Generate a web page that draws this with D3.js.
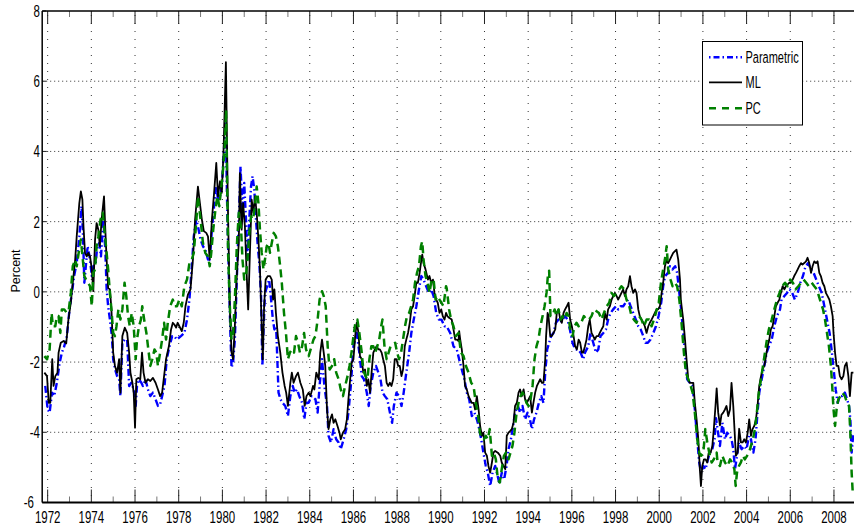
<!DOCTYPE html>
<html>
<head>
<meta charset="utf-8">
<script src="https://cdn.jsdelivr.net/npm/d3@7"></script>
<style>
  html, body { margin: 0; padding: 0; background: #fff; }
  svg { display: block; }
  text { font-family: "Liberation Sans", Arial, sans-serif; fill: #000; }
</style>
</head>
<body>
<svg id="chart" width="854" height="527"></svg>
<script>
// ---------------- data ----------------
const seriesNames = ["Parametric", "ML", "PC"];
const xTickYears = [1972,1974,1976,1978,1980,1982,1984,1986,1988,1990,1992,1994,1996,1998,2000,2002,2004,2006,2008];
const yTickValues = [-6,-4,-2,0,2,4,6,8];

const mlData = [[1971.85,-2.3],[1971.97,-2.4],[1972.05,-3.16],[1972.12,-3.16],[1972.21,-1.92],[1972.27,-2.68],[1972.35,-2.4],[1972.45,-2.3],[1972.5,-1.73],[1972.6,-1.45],[1972.73,-1.4],[1972.85,-1.47],[1972.95,-0.79],[1973.06,-0.31],[1973.15,0.26],[1973.26,0.92],[1973.33,1.58],[1973.45,2.53],[1973.52,2.86],[1973.59,2.63],[1973.64,1.87],[1973.71,1.11],[1973.79,1.01],[1973.86,1.11],[1973.94,1.01],[1974.02,0.64],[1974.09,0.02],[1974.17,1.49],[1974.24,1.96],[1974.32,1.77],[1974.39,1.3],[1974.47,2.06],[1974.58,2.72],[1974.64,1.77],[1974.7,0.92],[1974.77,0.11],[1974.85,0.07],[1974.92,-0.5],[1975.0,-1.73],[1975.08,-2.11],[1975.18,-2.3],[1975.27,-1.92],[1975.33,-2.87],[1975.42,-1.26],[1975.53,-1.02],[1975.64,-1.17],[1975.73,-1.73],[1975.79,-2.3],[1975.88,-2.59],[1975.94,-2.87],[1976.0,-3.87],[1976.06,-2.49],[1976.15,-2.45],[1976.24,-2.49],[1976.32,-1.73],[1976.39,-2.3],[1976.48,-2.59],[1976.59,-2.49],[1976.7,-2.54],[1976.82,-2.45],[1976.94,-2.59],[1977.05,-2.78],[1977.15,-2.97],[1977.24,-2.87],[1977.33,-2.4],[1977.42,-1.92],[1977.55,-1.55],[1977.65,-1.07],[1977.73,-0.88],[1977.8,-0.93],[1977.88,-1.02],[1977.95,-0.88],[1978.03,-0.98],[1978.14,-1.12],[1978.23,-0.88],[1978.31,-0.41],[1978.42,-0.08],[1978.54,0.07],[1978.65,0.92],[1978.75,2.06],[1978.88,3.0],[1978.97,2.53],[1979.06,2.06],[1979.15,1.73],[1979.26,1.68],[1979.34,1.58],[1979.42,0.92],[1979.52,2.06],[1979.62,2.82],[1979.72,3.67],[1979.8,2.72],[1979.89,3.15],[1979.97,2.82],[1980.05,3.95],[1980.16,6.54],[1980.25,2.5],[1980.34,-0.5],[1980.42,-1.73],[1980.49,-1.92],[1980.57,-0.98],[1980.65,0.35],[1980.75,1.39],[1980.8,3.38],[1980.88,1.77],[1980.95,2.53],[1981.03,1.87],[1981.11,0.54],[1981.18,-0.5],[1981.26,1.11],[1981.34,2.63],[1981.42,2.25],[1981.49,2.72],[1981.57,2.25],[1981.65,1.49],[1981.72,0.64],[1981.8,-0.98],[1981.85,-1.92],[1981.91,-0.41],[1981.98,0.35],[1982.08,0.45],[1982.18,0.45],[1982.26,0.35],[1982.32,-0.22],[1982.38,0.07],[1982.45,-0.6],[1982.54,-1.26],[1982.65,-1.73],[1982.75,-2.3],[1982.85,-2.68],[1982.92,-2.87],[1983.0,-3.25],[1983.11,-2.59],[1983.18,-2.3],[1983.26,-2.59],[1983.37,-2.4],[1983.46,-2.3],[1983.57,-2.59],[1983.68,-2.78],[1983.77,-3.25],[1983.85,-2.97],[1983.95,-2.87],[1984.03,-2.97],[1984.15,-2.68],[1984.21,-2.78],[1984.3,-2.3],[1984.41,-2.49],[1984.48,-1.73],[1984.56,-1.36],[1984.64,-1.73],[1984.71,-2.11],[1984.79,-3.35],[1984.86,-3.91],[1984.94,-3.63],[1985.02,-3.49],[1985.09,-3.73],[1985.17,-3.63],[1985.27,-3.82],[1985.36,-4.01],[1985.42,-4.2],[1985.52,-4.01],[1985.62,-3.91],[1985.7,-3.63],[1985.77,-3.06],[1985.85,-2.49],[1985.92,-2.02],[1986.0,-1.92],[1986.08,-1.26],[1986.15,-0.88],[1986.23,-1.17],[1986.3,-1.83],[1986.38,-1.92],[1986.45,-2.3],[1986.53,-2.21],[1986.61,-2.68],[1986.68,-2.49],[1986.76,-2.87],[1986.83,-2.3],[1986.91,-1.73],[1986.98,-1.64],[1987.06,-1.55],[1987.14,-1.64],[1987.21,-1.64],[1987.29,-1.73],[1987.36,-1.92],[1987.44,-2.11],[1987.52,-2.59],[1987.59,-2.68],[1987.67,-2.59],[1987.74,-2.68],[1987.82,-2.49],[1987.89,-1.92],[1987.97,-1.92],[1988.05,-2.11],[1988.12,-2.11],[1988.2,-2.4],[1988.27,-2.21],[1988.35,-1.55],[1988.42,-1.36],[1988.5,-1.17],[1988.58,-0.88],[1988.65,-0.5],[1988.73,-0.41],[1988.8,-0.12],[1988.88,0.26],[1988.95,0.26],[1989.03,0.54],[1989.11,0.92],[1989.15,1.06],[1989.21,0.82],[1989.3,0.64],[1989.41,0.35],[1989.48,0.45],[1989.56,0.26],[1989.64,0.35],[1989.71,-0.03],[1989.79,-0.22],[1989.86,-0.31],[1989.94,-0.6],[1990.02,-0.5],[1990.09,-0.69],[1990.17,-0.79],[1990.24,-0.6],[1990.3,-0.69],[1990.38,-0.74],[1990.5,-0.79],[1990.58,-1.07],[1990.66,-1.36],[1990.73,-1.36],[1990.81,-1.4],[1990.84,-1.12],[1990.89,-1.36],[1990.96,-1.64],[1991.04,-2.11],[1991.11,-2.68],[1991.19,-2.78],[1991.27,-2.97],[1991.34,-3.06],[1991.42,-3.16],[1991.5,-3.16],[1991.57,-3.35],[1991.65,-2.97],[1991.73,-3.35],[1991.8,-3.82],[1991.88,-4.1],[1991.95,-4.01],[1992.03,-4.58],[1992.11,-4.67],[1992.18,-4.96],[1992.26,-5.15],[1992.34,-4.86],[1992.41,-4.58],[1992.49,-4.53],[1992.61,-4.58],[1992.72,-4.67],[1992.79,-4.86],[1992.87,-4.96],[1992.95,-5.05],[1993.02,-4.1],[1993.1,-4.01],[1993.18,-3.96],[1993.25,-3.91],[1993.33,-3.73],[1993.4,-3.25],[1993.48,-3.16],[1993.56,-2.87],[1993.63,-2.78],[1993.71,-2.97],[1993.79,-2.78],[1993.86,-3.06],[1993.94,-3.16],[1994.02,-3.06],[1994.09,-2.97],[1994.17,-3.44],[1994.24,-3.16],[1994.32,-2.87],[1994.4,-2.68],[1994.47,-2.59],[1994.55,-2.49],[1994.63,-2.59],[1994.7,-2.59],[1994.78,-1.92],[1994.82,-1.26],[1994.89,-0.6],[1994.93,-0.69],[1995.01,-1.26],[1995.08,-1.26],[1995.16,-1.17],[1995.24,-1.07],[1995.31,-0.6],[1995.39,-0.5],[1995.47,-0.79],[1995.54,-0.88],[1995.62,-0.6],[1995.69,-0.5],[1995.77,-0.41],[1995.85,-0.31],[1995.92,-0.79],[1996.0,-0.98],[1996.08,-1.26],[1996.15,-1.55],[1996.23,-1.64],[1996.31,-1.36],[1996.38,-1.45],[1996.46,-1.73],[1996.52,-1.73],[1996.6,-1.55],[1996.67,-1.36],[1996.75,-0.98],[1996.82,-0.79],[1996.9,-1.17],[1996.98,-1.26],[1997.05,-1.36],[1997.13,-1.26],[1997.21,-1.26],[1997.28,-1.17],[1997.36,-1.07],[1997.44,-0.98],[1997.51,-0.6],[1997.59,-0.79],[1997.66,-0.5],[1997.74,-0.41],[1997.82,-0.22],[1997.89,-0.12],[1997.97,-0.03],[1998.05,-0.12],[1998.12,-0.22],[1998.2,-0.12],[1998.27,-0.03],[1998.35,0.07],[1998.43,-0.12],[1998.5,0.07],[1998.58,0.16],[1998.66,0.45],[1998.73,0.16],[1998.81,-0.03],[1998.89,0.07],[1998.96,-0.03],[1999.04,-0.5],[1999.11,-0.69],[1999.19,-0.79],[1999.27,-0.88],[1999.34,-0.98],[1999.42,-1.17],[1999.5,-0.98],[1999.57,-0.88],[1999.65,-0.79],[1999.73,-0.69],[1999.8,-0.6],[1999.88,-0.5],[1999.95,-0.5],[2000.03,-0.41],[2000.11,-0.03],[2000.18,0.26],[2000.26,0.73],[2000.34,0.92],[2000.41,0.82],[2000.49,0.92],[2000.56,1.01],[2000.64,1.11],[2000.72,1.16],[2000.79,1.2],[2000.87,0.92],[2000.95,0.35],[2000.99,-0.22],[2001.04,-0.5],[2001.1,-0.79],[2001.18,-1.36],[2001.25,-1.92],[2001.33,-2.49],[2001.4,-2.59],[2001.48,-2.59],[2001.56,-2.59],[2001.63,-3.16],[2001.71,-3.63],[2001.79,-4.2],[2001.86,-5.05],[2001.91,-5.53],[2001.97,-4.96],[2002.05,-4.77],[2002.12,-4.77],[2002.2,-4.86],[2002.26,-4.6],[2002.35,-4.58],[2002.43,-4.4],[2002.5,-3.9],[2002.57,-3.3],[2002.63,-2.75],[2002.7,-3.44],[2002.78,-3.8],[2002.85,-3.5],[2002.93,-3.44],[2003.01,-3.35],[2003.08,-3.25],[2003.16,-3.54],[2003.24,-3.35],[2003.31,-2.59],[2003.39,-3.25],[2003.47,-4.2],[2003.51,-4.67],[2003.59,-4.58],[2003.66,-3.9],[2003.74,-4.29],[2003.82,-4.29],[2003.89,-4.2],[2003.97,-4.29],[2004.05,-4.01],[2004.12,-3.63],[2004.2,-4.1],[2004.27,-3.91],[2004.35,-3.82],[2004.43,-3.63],[2004.5,-3.25],[2004.58,-2.68],[2004.66,-2.4],[2004.73,-2.21],[2004.81,-2.11],[2004.89,-1.83],[2004.96,-1.55],[2005.04,-1.36],[2005.11,-1.07],[2005.19,-0.98],[2005.27,-0.69],[2005.34,-0.41],[2005.42,-0.31],[2005.5,-0.22],[2005.57,-0.03],[2005.65,0.16],[2005.73,0.07],[2005.8,0.16],[2005.88,0.21],[2005.95,0.26],[2006.03,0.26],[2006.11,0.35],[2006.18,0.45],[2006.26,0.54],[2006.34,0.64],[2006.41,0.73],[2006.49,0.82],[2006.56,0.78],[2006.64,0.82],[2006.72,0.87],[2006.79,0.97],[2006.87,0.82],[2006.95,0.54],[2007.02,0.73],[2007.1,0.87],[2007.18,0.82],[2007.25,0.87],[2007.33,0.54],[2007.4,0.45],[2007.48,0.26],[2007.56,0.16],[2007.63,-0.03],[2007.71,-0.12],[2007.79,-0.22],[2007.86,-0.41],[2007.94,-0.69],[2007.98,-1.17],[2008.05,-1.73],[2008.12,-2.11],[2008.2,-2.11],[2008.27,-2.4],[2008.35,-2.49],[2008.43,-2.4],[2008.5,-2.11],[2008.58,-2.02],[2008.66,-2.4],[2008.73,-2.97],[2008.81,-2.3],[2008.89,-2.3]];

const parametricData = [[1971.89,-2.68],[1972.0,-3.35],[1972.09,-3.44],[1972.2,-2.87],[1972.3,-2.97],[1972.42,-2.59],[1972.55,-2.02],[1972.65,-1.73],[1972.76,-1.55],[1972.88,-1.26],[1973.0,-0.5],[1973.11,-0.03],[1973.21,0.45],[1973.33,0.82],[1973.45,1.58],[1973.55,2.44],[1973.61,1.77],[1973.68,0.26],[1973.76,0.82],[1973.83,1.3],[1973.94,0.92],[1974.02,0.45],[1974.09,0.73],[1974.2,0.82],[1974.27,1.3],[1974.36,1.39],[1974.44,1.01],[1974.55,2.06],[1974.64,1.2],[1974.7,0.07],[1974.77,-0.41],[1974.85,-0.79],[1974.94,-1.26],[1975.0,-1.92],[1975.09,-2.21],[1975.18,-2.4],[1975.27,-2.49],[1975.33,-2.97],[1975.42,-1.45],[1975.53,-1.36],[1975.64,-1.36],[1975.73,-2.68],[1975.83,-2.59],[1975.94,-2.78],[1976.03,-3.25],[1976.09,-2.68],[1976.18,-2.49],[1976.29,-2.59],[1976.36,-2.68],[1976.48,-2.49],[1976.59,-2.78],[1976.7,-2.97],[1976.82,-2.87],[1976.94,-3.06],[1977.05,-3.25],[1977.15,-3.2],[1977.24,-2.97],[1977.35,-2.68],[1977.45,-1.92],[1977.58,-1.55],[1977.7,-1.26],[1977.8,-1.26],[1977.91,-1.36],[1978.1,-1.26],[1978.26,-1.17],[1978.38,-0.79],[1978.49,-0.22],[1978.6,0.73],[1978.69,1.58],[1978.8,2.06],[1978.88,1.87],[1979.0,1.49],[1979.11,1.3],[1979.22,1.2],[1979.34,0.92],[1979.42,0.92],[1979.52,1.77],[1979.62,2.44],[1979.72,3.0],[1979.8,2.63],[1979.89,2.72],[1979.98,3.0],[1980.06,3.95],[1980.15,4.8],[1980.23,2.06],[1980.31,0.16],[1980.37,-1.26],[1980.42,-2.16],[1980.49,-2.02],[1980.57,-1.36],[1980.66,0.35],[1980.75,2.06],[1980.83,3.57],[1980.92,2.25],[1981.0,3.1],[1981.08,2.06],[1981.15,0.92],[1981.23,2.06],[1981.31,3.0],[1981.38,3.29],[1981.46,2.91],[1981.54,2.06],[1981.62,1.3],[1981.69,0.82],[1981.77,-0.12],[1981.83,-2.11],[1981.89,-0.98],[1981.95,-0.03],[1982.05,0.16],[1982.14,0.35],[1982.23,-0.22],[1982.31,-0.79],[1982.38,-1.07],[1982.46,-0.98],[1982.57,-2.87],[1982.66,-3.06],[1982.75,-3.16],[1982.88,-3.25],[1983.0,-3.54],[1983.11,-2.97],[1983.22,-2.68],[1983.31,-2.87],[1983.42,-2.78],[1983.52,-2.97],[1983.65,-3.16],[1983.75,-3.63],[1983.85,-3.16],[1983.95,-3.16],[1984.08,-2.97],[1984.26,-3.06],[1984.36,-3.44],[1984.45,-2.68],[1984.56,-1.92],[1984.67,-2.68],[1984.79,-3.25],[1984.86,-4.1],[1984.97,-4.29],[1985.09,-3.91],[1985.21,-4.2],[1985.32,-4.29],[1985.42,-4.48],[1985.55,-4.2],[1985.67,-3.91],[1985.77,-3.44],[1985.88,-2.68],[1986.0,-1.55],[1986.08,-1.36],[1986.15,-1.17],[1986.27,-1.73],[1986.38,-2.4],[1986.48,-2.49],[1986.61,-2.87],[1986.7,-3.25],[1986.79,-2.68],[1986.91,-2.3],[1987.03,-2.11],[1987.14,-2.3],[1987.24,-2.49],[1987.33,-2.87],[1987.44,-2.97],[1987.55,-3.06],[1987.67,-3.44],[1987.77,-3.73],[1987.85,-3.25],[1987.97,-2.87],[1988.09,-2.97],[1988.2,-3.25],[1988.3,-2.87],[1988.42,-2.3],[1988.55,-1.73],[1988.65,-1.17],[1988.76,-0.79],[1988.88,-0.41],[1989.0,0.07],[1989.11,0.45],[1989.21,0.35],[1989.33,0.16],[1989.45,-0.03],[1989.56,0.07],[1989.67,-0.12],[1989.79,-0.6],[1989.91,-0.79],[1990.03,-0.79],[1990.17,-0.98],[1990.27,-0.98],[1990.43,-1.17],[1990.58,-1.55],[1990.73,-1.64],[1990.84,-1.92],[1990.96,-2.21],[1991.08,-2.49],[1991.19,-2.87],[1991.3,-3.06],[1991.42,-3.54],[1991.54,-3.44],[1991.65,-3.63],[1991.73,-3.82],[1991.85,-4.2],[1991.95,-4.58],[1992.06,-4.96],[1992.15,-5.15],[1992.26,-5.53],[1992.37,-5.15],[1992.49,-4.96],[1992.6,-5.24],[1992.69,-5.48],[1992.79,-5.15],[1992.9,-5.34],[1993.01,-4.96],[1993.1,-4.48],[1993.21,-4.2],[1993.31,-3.82],[1993.4,-3.44],[1993.53,-3.25],[1993.63,-3.44],[1993.74,-3.25],[1993.86,-3.63],[1993.97,-3.44],[1994.08,-3.63],[1994.17,-3.91],[1994.27,-3.63],[1994.38,-3.44],[1994.49,-3.16],[1994.6,-2.97],[1994.7,-3.16],[1994.78,-2.3],[1994.87,-1.64],[1994.96,-1.45],[1995.05,-1.26],[1995.16,-1.17],[1995.27,-0.88],[1995.39,-0.79],[1995.48,-0.88],[1995.57,-0.79],[1995.69,-0.69],[1995.8,-0.79],[1995.91,-1.07],[1996.03,-1.45],[1996.15,-1.64],[1996.27,-1.64],[1996.4,-1.73],[1996.52,-1.92],[1996.6,-1.73],[1996.75,-1.55],[1996.85,-1.17],[1996.98,-1.45],[1997.1,-1.73],[1997.21,-1.64],[1997.31,-1.26],[1997.44,-1.17],[1997.56,-1.07],[1997.66,-0.79],[1997.77,-0.6],[1997.89,-0.5],[1998.02,-0.41],[1998.12,-0.5],[1998.23,-0.41],[1998.35,-0.41],[1998.46,-0.31],[1998.58,-0.22],[1998.69,-0.41],[1998.81,-0.6],[1998.93,-0.79],[1999.04,-0.98],[1999.15,-1.07],[1999.27,-1.26],[1999.37,-1.45],[1999.48,-1.45],[1999.6,-1.36],[1999.73,-1.17],[1999.85,-0.98],[1999.97,-0.69],[2000.09,-0.31],[2000.18,0.16],[2000.27,0.45],[2000.4,0.54],[2000.49,0.73],[2000.61,0.64],[2000.73,0.73],[2000.82,0.54],[2000.92,-0.03],[2000.99,-0.41],[2001.07,-0.98],[2001.18,-1.73],[2001.28,-2.49],[2001.4,-2.59],[2001.53,-2.68],[2001.63,-3.35],[2001.74,-4.2],[2001.83,-4.86],[2001.92,-5.15],[2002.02,-4.96],[2002.12,-5.05],[2002.23,-4.77],[2002.32,-4.58],[2002.43,-4.48],[2002.53,-4.2],[2002.6,-3.6],[2002.67,-3.91],[2002.78,-4.39],[2002.89,-3.73],[2003.01,-4.2],[2003.11,-4.01],[2003.22,-4.1],[2003.31,-4.2],[2003.39,-4.48],[2003.47,-5.05],[2003.56,-4.67],[2003.65,-4.29],[2003.77,-4.48],[2003.89,-4.39],[2004.0,-4.48],[2004.11,-4.1],[2004.2,-4.2],[2004.31,-4.58],[2004.41,-4.2],[2004.5,-3.44],[2004.58,-2.87],[2004.69,-2.49],[2004.81,-2.11],[2004.92,-1.73],[2005.02,-1.55],[2005.15,-1.36],[2005.27,-0.98],[2005.39,-0.69],[2005.53,-0.5],[2005.6,-0.22],[2005.73,-0.12],[2005.85,-0.03],[2005.97,0.07],[2006.09,-0.03],[2006.21,-0.22],[2006.34,-0.03],[2006.46,0.26],[2006.58,0.45],[2006.7,0.73],[2006.82,0.82],[2006.95,0.64],[2007.07,0.54],[2007.19,0.35],[2007.31,0.16],[2007.44,-0.03],[2007.56,-0.41],[2007.68,-0.79],[2007.8,-1.17],[2007.89,-1.64],[2007.97,-2.11],[2008.08,-2.78],[2008.17,-3.16],[2008.27,-2.97],[2008.38,-2.97],[2008.5,-2.87],[2008.6,-3.06],[2008.69,-3.25],[2008.75,-3.63],[2008.81,-4.58],[2008.89,-4.01]];

const pcData = [[1971.85,-1.83],[1971.97,-1.92],[1972.09,-1.64],[1972.18,-0.6],[1972.24,-0.98],[1972.35,-0.98],[1972.42,-0.69],[1972.5,-0.69],[1972.58,-1.17],[1972.65,-0.5],[1972.76,-0.5],[1972.88,-0.6],[1972.97,-0.5],[1973.06,-0.03],[1973.15,0.73],[1973.26,0.92],[1973.33,0.73],[1973.42,1.11],[1973.52,1.49],[1973.61,0.92],[1973.68,0.45],[1973.76,0.35],[1973.85,0.26],[1973.94,0.16],[1974.02,-0.41],[1974.09,0.54],[1974.17,0.64],[1974.24,1.3],[1974.32,1.58],[1974.42,2.06],[1974.52,2.25],[1974.61,1.68],[1974.7,1.11],[1974.77,0.64],[1974.85,-0.03],[1974.92,-0.5],[1975.0,-1.17],[1975.08,-1.26],[1975.15,-0.98],[1975.24,-0.5],[1975.33,-0.79],[1975.42,-0.5],[1975.52,0.26],[1975.6,-0.12],[1975.68,-0.69],[1975.76,-0.98],[1975.85,-0.6],[1975.94,-0.98],[1976.03,-1.92],[1976.09,-1.36],[1976.18,-0.98],[1976.27,-0.79],[1976.33,-0.41],[1976.44,-0.88],[1976.52,-1.17],[1976.61,-1.64],[1976.7,-2.11],[1976.79,-1.92],[1976.89,-1.64],[1976.97,-1.73],[1977.05,-2.11],[1977.15,-1.73],[1977.24,-1.36],[1977.33,-0.88],[1977.42,-1.36],[1977.5,-0.88],[1977.61,-0.41],[1977.73,-0.22],[1977.82,-0.41],[1977.92,-0.41],[1978.03,-0.22],[1978.14,-0.41],[1978.26,0.16],[1978.38,0.35],[1978.49,0.82],[1978.6,0.92],[1978.69,1.11],[1978.8,1.96],[1978.88,2.72],[1979.0,2.06],[1979.11,1.39],[1979.22,1.11],[1979.34,1.01],[1979.42,0.73],[1979.49,1.11],[1979.58,1.77],[1979.68,2.34],[1979.77,2.72],[1979.86,2.44],[1979.95,3.0],[1980.03,3.48],[1980.11,4.14],[1980.17,5.18],[1980.26,1.11],[1980.34,-0.41],[1980.42,-1.36],[1980.49,-1.17],[1980.57,-0.22],[1980.66,1.3],[1980.75,2.25],[1980.85,1.87],[1980.92,0.92],[1981.0,0.35],[1981.08,0.45],[1981.15,0.92],[1981.23,1.68],[1981.31,2.15],[1981.4,2.06],[1981.49,2.44],[1981.57,3.0],[1981.65,2.53],[1981.72,1.77],[1981.8,1.11],[1981.88,0.64],[1981.95,0.92],[1982.03,1.3],[1982.11,1.39],[1982.18,1.11],[1982.26,1.39],[1982.35,1.68],[1982.45,1.58],[1982.54,1.3],[1982.63,0.82],[1982.72,0.26],[1982.82,-0.6],[1982.91,-1.17],[1983.0,-1.92],[1983.09,-1.73],[1983.18,-1.64],[1983.28,-1.73],[1983.37,-1.26],[1983.46,-1.45],[1983.55,-1.73],[1983.65,-1.55],[1983.74,-1.17],[1983.83,-1.64],[1983.95,-1.83],[1984.08,-1.55],[1984.17,-1.36],[1984.26,-1.26],[1984.36,-0.79],[1984.45,-0.22],[1984.56,0.02],[1984.64,-0.12],[1984.73,-0.41],[1984.82,-1.55],[1984.91,-2.21],[1985.02,-2.11],[1985.12,-1.92],[1985.21,-2.3],[1985.32,-2.49],[1985.42,-2.78],[1985.52,-2.97],[1985.62,-2.68],[1985.73,-2.4],[1985.82,-2.11],[1985.91,-1.73],[1986.0,-1.26],[1986.09,-0.88],[1986.18,-0.79],[1986.27,-1.17],[1986.38,-1.73],[1986.45,-2.21],[1986.55,-2.4],[1986.64,-2.49],[1986.73,-1.92],[1986.82,-1.55],[1986.91,-1.55],[1987.0,-1.73],[1987.09,-1.55],[1987.18,-1.36],[1987.27,-0.98],[1987.33,-0.79],[1987.42,-1.55],[1987.52,-1.92],[1987.61,-1.73],[1987.7,-1.55],[1987.79,-1.5],[1987.91,-1.45],[1988.0,-1.73],[1988.09,-1.92],[1988.18,-1.73],[1988.27,-1.36],[1988.36,-0.98],[1988.45,-0.69],[1988.55,-0.6],[1988.64,-0.41],[1988.73,-0.22],[1988.82,0.26],[1988.91,0.54],[1989.0,0.73],[1989.09,1.3],[1989.15,1.44],[1989.21,0.92],[1989.3,0.45],[1989.39,0.26],[1989.48,-0.03],[1989.58,0.35],[1989.67,0.35],[1989.76,-0.22],[1989.85,-0.12],[1989.94,-0.22],[1990.03,-0.31],[1990.12,-0.41],[1990.24,0.16],[1990.27,0.1],[1990.38,-0.5],[1990.47,-0.79],[1990.58,-0.98],[1990.69,-1.26],[1990.81,-1.17],[1990.92,-1.73],[1991.04,-1.83],[1991.15,-2.11],[1991.27,-2.3],[1991.39,-2.59],[1991.5,-2.68],[1991.6,-3.16],[1991.69,-3.44],[1991.79,-4.01],[1991.88,-4.2],[1991.97,-4.2],[1992.06,-4.1],[1992.15,-4.2],[1992.24,-3.91],[1992.34,-4.67],[1992.43,-4.58],[1992.52,-4.77],[1992.61,-5.34],[1992.7,-5.43],[1992.79,-5.05],[1992.89,-4.67],[1992.98,-4.58],[1993.1,-4.77],[1993.19,-4.58],[1993.28,-4.39],[1993.37,-4.01],[1993.47,-3.44],[1993.56,-3.16],[1993.65,-2.97],[1993.74,-2.87],[1993.83,-2.97],[1993.92,-3.16],[1994.02,-3.25],[1994.11,-3.06],[1994.2,-2.68],[1994.29,-1.92],[1994.38,-1.55],[1994.47,-1.36],[1994.56,-0.98],[1994.66,-0.69],[1994.75,-0.41],[1994.84,-0.03],[1994.9,0.45],[1994.96,0.6],[1995.02,-0.69],[1995.11,-0.69],[1995.21,-0.5],[1995.3,-0.69],[1995.39,-0.5],[1995.48,-0.79],[1995.57,-0.69],[1995.66,-0.79],[1995.76,-0.6],[1995.85,-0.69],[1995.94,-1.17],[1996.03,-1.26],[1996.12,-0.98],[1996.21,-0.88],[1996.31,-0.98],[1996.43,-0.88],[1996.55,-0.69],[1996.67,-0.79],[1996.79,-0.79],[1996.9,-0.69],[1997.01,-0.5],[1997.13,-0.55],[1997.24,-0.6],[1997.36,-0.79],[1997.47,-0.6],[1997.59,-0.41],[1997.71,-0.31],[1997.82,-0.03],[1997.92,-0.12],[1998.05,-0.03],[1998.17,0.07],[1998.27,0.16],[1998.4,0.07],[1998.5,-0.22],[1998.63,-0.41],[1998.73,-0.69],[1998.84,-0.79],[1998.96,-0.88],[1999.08,-0.69],[1999.19,-0.79],[1999.3,-0.98],[1999.42,-0.79],[1999.54,-0.79],[1999.65,-0.98],[1999.76,-0.79],[1999.89,-0.5],[1999.98,-0.31],[2000.08,0.26],[2000.18,0.64],[2000.26,0.92],[2000.34,1.3],[2000.41,0.64],[2000.52,0.35],[2000.61,0.16],[2000.72,0.26],[2000.82,0.16],[2000.92,-0.22],[2001.02,-0.88],[2001.13,-1.73],[2001.22,-2.3],[2001.33,-2.49],[2001.44,-2.68],[2001.53,-2.87],[2001.63,-3.44],[2001.74,-4.2],[2001.83,-4.58],[2001.92,-4.67],[2002.02,-4.58],[2002.11,-3.91],[2002.2,-4.29],[2002.29,-4.58],[2002.4,-4.86],[2002.5,-4.77],[2002.63,-4.58],[2002.67,-4.86],[2002.78,-4.96],[2002.89,-4.67],[2003.01,-4.86],[2003.13,-4.96],[2003.24,-4.77],[2003.34,-4.86],[2003.44,-5.05],[2003.5,-5.53],[2003.56,-5.15],[2003.65,-4.96],[2003.74,-4.86],[2003.83,-4.67],[2003.92,-4.77],[2004.02,-4.67],[2004.11,-4.58],[2004.2,-4.39],[2004.29,-4.2],[2004.38,-3.91],[2004.47,-3.44],[2004.56,-2.87],[2004.66,-2.49],[2004.75,-2.11],[2004.84,-1.73],[2004.93,-1.36],[2005.02,-1.07],[2005.15,-0.79],[2005.27,-0.5],[2005.39,-0.22],[2005.51,-0.03],[2005.63,0.16],[2005.76,0.26],[2005.88,0.16],[2006.0,0.35],[2006.12,0.26],[2006.24,0.07],[2006.37,0.16],[2006.49,0.26],[2006.61,0.35],[2006.73,0.26],[2006.85,0.16],[2006.98,0.26],[2007.1,0.16],[2007.22,0.07],[2007.31,-0.12],[2007.4,-0.31],[2007.5,-0.5],[2007.59,-0.79],[2007.68,-1.17],[2007.77,-1.55],[2007.86,-2.11],[2007.92,-2.68],[2007.98,-3.35],[2008.05,-3.82],[2008.12,-3.35],[2008.2,-3.06],[2008.29,-2.97],[2008.38,-2.87],[2008.5,-2.97],[2008.6,-3.16],[2008.69,-3.25],[2008.75,-4.01],[2008.81,-5.15],[2008.86,-5.72]];

const seriesColors = ["#0000ff", "#000000", "#008000"];

// ---------------- layout ----------------
const svg = d3.select("#chart");
const W = 854, H = 527;
const plot = { left: 42.2, right: 855.8, top: 11, bottom: 502.5 };

const x = d3.scaleLinear().domain([1971.75, 2009.0]).range([plot.left, plot.right]);
const y = d3.scaleLinear().domain([-6, 8]).range([plot.bottom, plot.top]);

svg.append("rect").attr("width", W).attr("height", H).attr("fill", "#fff");

svg.append("defs").append("clipPath").attr("id", "clip")
  .append("rect").attr("x", plot.left).attr("y", plot.top)
  .attr("width", plot.right - plot.left).attr("height", plot.bottom - plot.top);

// grid
const grid = svg.append("g");
grid.selectAll("line.hg").data(yTickValues.filter(v => v > -6 && v < 8)).enter()
  .append("line").attr("class", "hg")
  .attr("x1", plot.left).attr("x2", plot.right)
  .attr("y1", d => y(d)).attr("y2", d => y(d))
  .attr("stroke", "#333").attr("stroke-width", 1)
  .attr("stroke-dasharray", "1,3");
grid.selectAll("line.vg").data(xTickYears).enter()
  .append("line").attr("class", "vg")
  .attr("x1", d => x(d)).attr("x2", d => x(d))
  .attr("y1", plot.top + 4).attr("y2", plot.bottom)
  .attr("stroke", "#333").attr("stroke-width", 1)
  .attr("stroke-dasharray", "1,7");

// ticks on x axes (top and bottom, inward)
const minorYears = d3.range(1973, 2009, 2);
const ticks = svg.append("g");
xTickYears.forEach(yr => {
  ticks.append("line").attr("x1", x(yr)).attr("x2", x(yr)).attr("y1", plot.top).attr("y2", plot.top + 13)
    .attr("stroke", "#222").attr("stroke-width", 1);
  ticks.append("line").attr("x1", x(yr)).attr("x2", x(yr)).attr("y1", plot.bottom).attr("y2", plot.bottom - 13)
    .attr("stroke", "#222").attr("stroke-width", 1);
});
minorYears.forEach(yr => {
  ticks.append("line").attr("x1", x(yr)).attr("x2", x(yr)).attr("y1", plot.top).attr("y2", plot.top + 6)
    .attr("stroke", "#777").attr("stroke-width", 1);
  ticks.append("line").attr("x1", x(yr)).attr("x2", x(yr)).attr("y1", plot.bottom).attr("y2", plot.bottom - 6)
    .attr("stroke", "#777").attr("stroke-width", 1);
});
yTickValues.forEach(v => {
  ticks.append("line").attr("x1", plot.left).attr("x2", plot.left + 4).attr("y1", y(v)).attr("y2", y(v))
    .attr("stroke", "#222").attr("stroke-width", 1);
});

// series
const line = d3.line().x(d => x(d[0])).y(d => y(d[1]));
const lines = svg.append("g").attr("clip-path", "url(#clip)");
const dashes = ["7,3,1.5,3", null, "8,5"];
const widths = [2.4, 1.8, 2.5];
[parametricData, mlData, pcData].forEach((data, i) => {
  const p = lines.append("path").datum(data)
    .attr("d", line)
    .attr("fill", "none")
    .attr("stroke", seriesColors[i])
    .attr("stroke-width", widths[i])
    .attr("stroke-linejoin", "round");
  if (dashes[i]) p.attr("stroke-dasharray", dashes[i]);
});

// axes box
svg.append("line").attr("x1", plot.left).attr("x2", W).attr("y1", plot.top).attr("y2", plot.top)
  .attr("stroke", "#000").attr("stroke-width", 1.3);
svg.append("line").attr("x1", plot.left).attr("x2", plot.left).attr("y1", plot.top).attr("y2", plot.bottom)
  .attr("stroke", "#000").attr("stroke-width", 1.5);
svg.append("line").attr("x1", plot.left).attr("x2", W).attr("y1", plot.bottom).attr("y2", plot.bottom)
  .attr("stroke", "#000").attr("stroke-width", 2);

// tick labels (tall, narrow like the reference)
const SY = 1.45;
const xl = svg.append("g");
xTickYears.forEach(yr => {
  xl.append("g").attr("transform", `translate(${x(yr)},522.5) scale(1,${SY})`)
    .append("text").attr("text-anchor", "middle").attr("font-size", 11.5).text(yr);
});
const yl = svg.append("g");
yTickValues.forEach(v => {
  const xr = v === -6 ? 34 : 40;
  const dy = v === -6 ? 5 : 6;
  yl.append("g").attr("transform", `translate(${xr},${y(v) + dy}) scale(1,${SY})`)
    .append("text").attr("text-anchor", "end").attr("font-size", 11.5).text(v < 0 ? "-" + Math.abs(v) : String(v));
});

// y label
svg.append("text")
  .attr("transform", "translate(20,271) rotate(-90)")
  .attr("text-anchor", "middle")
  .attr("font-size", 12.5)
  .text("Percent");

// legend
const lg = svg.append("g");
lg.append("rect").attr("x", 702.5).attr("y", 41.5).attr("width", 100).attr("height", 83.5)
  .attr("fill", "#fff").attr("stroke", "#000").attr("stroke-width", 1);
const legendY = [57.3, 82.3, 108.3];
seriesNames.forEach((name, i) => {
  const l = lg.append("line").attr("x1", 709).attr("x2", 742)
    .attr("y1", legendY[i]).attr("y2", legendY[i])
    .attr("stroke", seriesColors[i]).attr("stroke-width", widths[i]);
  if (dashes[i]) l.attr("stroke-dasharray", i === 0 ? "1.5,3,6,3" : "7,6");
  lg.append("g").attr("transform", `translate(745.5,${legendY[i] + 6}) scale(1,${SY})`)
    .append("text").attr("font-size", 11).text(name);
});
</script>
</body>
</html>
